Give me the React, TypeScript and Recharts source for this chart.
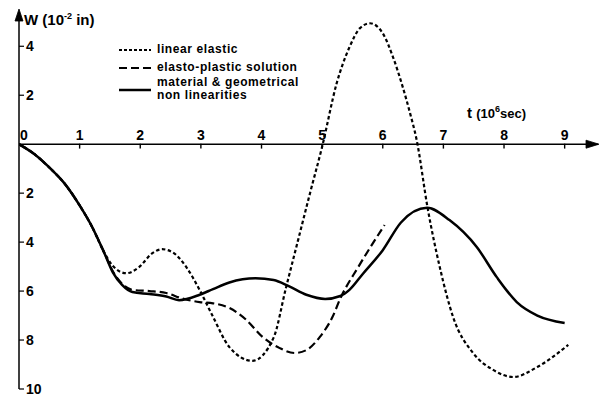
import {
  LineChart,
  Line,
  XAxis,
  YAxis,
  ReferenceLine,
  ReferenceDot,
  Legend,
} from "recharts";

// time (10^6 sec) tick labels and W (10^-2 in) ticks
const tTicks = [1, 2, 3, 4, 5, 6, 7, 8, 9];
const wTicks = [-10, -8, -6, -4, -2, 2, 4];

// linear elastic
const linearT = [0, 0.25, 0.5, 0.75, 1.0, 1.2, 1.4, 1.54, 1.77, 1.98, 2.2, 2.36, 2.53, 2.76, 2.98, 3.19, 3.47, 3.85, 4.2, 4.4, 4.6, 4.8, 5.0, 5.24, 5.45, 5.62, 5.79, 6.0, 6.17, 6.33, 6.45, 6.56, 6.74, 6.94, 7.16, 7.49, 7.82, 8.15, 8.55, 9.06];
const linearW = [0, -0.4, -0.95, -1.6, -2.5, -3.35, -4.4, -4.95, -5.27, -5.02, -4.45, -4.29, -4.41, -5.02, -5.96, -7.0, -8.29, -8.85, -7.9, -5.9, -3.95, -2.0, -0.1, 2.49, 3.96, 4.73, 4.94, 4.53, 3.55, 2.33, 1.27, 0.16, -2.61, -5.02, -7.06, -8.53, -9.22, -9.51, -9.1, -8.2];

// elasto-plastic solution
const plasticT = [0, 0.25, 0.5, 0.75, 1.0, 1.2, 1.4, 1.55, 1.7, 1.87, 2.15, 2.43, 2.69, 2.98, 3.2, 3.47, 3.75, 4.02, 4.3, 4.55, 4.74, 4.96, 5.17, 5.3, 5.6, 6.03];
const plasticW = [0, -0.4, -0.95, -1.6, -2.5, -3.35, -4.4, -5.2, -5.7, -5.95, -6.0, -6.08, -6.3, -6.45, -6.5, -6.69, -7.18, -7.88, -8.33, -8.53, -8.41, -7.88, -7.06, -6.3, -5.0, -3.3];

// material & geometrical non linearities
const materialT = [0, 0.25, 0.5, 0.75, 1.0, 1.2, 1.4, 1.55, 1.7, 1.87, 2.15, 2.43, 2.64, 2.98, 3.2, 3.47, 3.9, 4.2, 4.45, 4.74, 5.05, 5.3, 5.45, 5.67, 6.0, 6.3, 6.73, 7.1, 7.55, 7.88, 8.21, 8.55, 9.0];
const materialW = [0, -0.4, -0.95, -1.6, -2.5, -3.35, -4.4, -5.25, -5.75, -6.04, -6.12, -6.22, -6.37, -6.15, -5.92, -5.65, -5.48, -5.55, -5.8, -6.15, -6.32, -6.2, -5.95, -5.3, -4.33, -3.2, -2.6, -3.1, -4.2, -5.43, -6.45, -7.0, -7.3];

const toRows = (ts: number[], ws: number[]) => ts.map((t, i) => ({ t, w: ws[i] }));

const linearData = toRows(linearT, linearW);
const plasticData = toRows(plasticT, plasticW);
const materialData = toRows(materialT, materialW);

const FONT = "'Liberation Sans', Arial, sans-serif";
const tickStyle = { fill: "#000", fontSize: 14, fontWeight: "bold", fontFamily: FONT };

const legendRows = [
  { lines: ["linear elastic"], dash: "3 2", width: 2 },
  { lines: ["elasto-plastic solution"], dash: "8 4", width: 2.2 },
  { lines: ["material & geometrical", "non linearities"], dash: undefined, width: 2.5 },
];

function LegendBox() {
  return (
    <div style={{ fontFamily: FONT, fontSize: 12, fontWeight: "bold", color: "#000", lineHeight: "13px", letterSpacing: 0.6 }}>
      {legendRows.map((r, i) => (
        <div key={i} style={{ display: "flex", alignItems: "center", marginBottom: i === 0 ? 5 : 2 }}>
          <svg width={32} height={10} style={{ marginRight: 6, marginTop: r.lines.length > 1 ? 2 : 0 }}>
            <line x1={0} y1={5} x2={32} y2={5} stroke="#000" strokeWidth={r.width} strokeDasharray={r.dash} />
          </svg>
          <div>
            {r.lines.map((l) => (
              <div key={l}>{l}</div>
            ))}
          </div>
        </div>
      ))}
    </div>
  );
}

const wTitle = (props: any) => {
  const vb = props.viewBox;
  const ax = vb.x + vb.width;
  return (
    <text x={ax + 4} y={vb.y + 13} fill="#000" fontFamily={FONT} fontWeight="bold" fontSize={15}>
      W <tspan>(10</tspan>
      <tspan dy={-6} fontSize={9}>-2</tspan>
      <tspan dy={6}> in)</tspan>
    </text>
  );
};

const tTitle = (props: any) => {
  const vb = props.viewBox;
  return (
    <text x={vb.x} y={vb.y} fill="#000" fontFamily={FONT} fontWeight="bold" fontSize={15}>
      t <tspan fontSize={13}>(10</tspan>
      <tspan dy={-6} fontSize={9}>6</tspan>
      <tspan dy={6} fontSize={13}>sec)</tspan>
    </text>
  );
};

// arrow heads on the axes
const upArrow = (props: any) => {
  const vb = props.viewBox;
  const cx = vb.x + vb.width / 2;
  const cy = vb.y + vb.height / 2;
  return <path d={`M${cx},${cy - 3}L${cx - 4},${cy + 9}L${cx + 4},${cy + 9}Z`} fill="#000" stroke="#000" strokeWidth={0.8} />;
};
const rightArrow = (props: any) => {
  const vb = props.viewBox;
  const cx = vb.x + vb.width / 2;
  const cy = vb.y + vb.height / 2;
  return <path d={`M${cx + 1},${cy}L${cx - 12},${cy - 4}L${cx - 12},${cy + 4}Z`} fill="#000" stroke="#000" strokeWidth={0.8} />;
};

export default function App() {
  return (
    <div style={{ position: "absolute", left: 0, top: 0, background: "#fff" }}>
      <LineChart width={603} height={399} margin={{ top: 12, right: 5, bottom: 10, left: 19 }}>
        <XAxis type="number" dataKey="t" domain={[0, 9.55]} allowDataOverflow hide />
        <YAxis
          type="number"
          dataKey="w"
          domain={[-10, 5.4]}
          allowDataOverflow
          ticks={wTicks}
          mirror
          width={1}
          tickSize={5}
          tick={tickStyle}
          tickFormatter={(v: number) => String(Math.abs(v))}
          axisLine={{ stroke: "#000", strokeWidth: 1.5 }}
          tickLine={{ stroke: "#000", strokeWidth: 1.2 }}
          label={{ content: wTitle }}
        />
        <ReferenceLine y={0} stroke="#000" strokeWidth={1.5} />
        {tTicks.map((t) => (
          <ReferenceLine
            key={t}
            segment={[{ x: t, y: 0.02 }, { x: t, y: -0.18 }]}
            stroke="#000"
            strokeWidth={1.4}
            ifOverflow="visible"
            label={{ value: String(t), position: "top", offset: 4, ...tickStyle }}
          />
        ))}
        <ReferenceDot x={0} y={0} r={0} fill="none" stroke="none" label={{ value: "0", position: "top", offset: 4, dx: 5, ...tickStyle }} />
        <ReferenceDot x={7.39} y={1.06} r={0} fill="none" stroke="none" label={{ content: tTitle }} />
        <ReferenceDot x={0} y={5.4} r={0} fill="none" stroke="none" ifOverflow="visible" label={{ content: upArrow }} />
        <ReferenceDot x={9.55} y={0} r={0} fill="none" stroke="none" ifOverflow="visible" label={{ content: rightArrow }} />

        <Line data={materialData} dataKey="w" type="monotone" stroke="#000" strokeWidth={2.5} dot={false} isAnimationActive={false} />
        <Line data={plasticData} dataKey="w" type="monotone" stroke="#000" strokeWidth={2.2} strokeDasharray="8 4" dot={false} isAnimationActive={false} />
        <Line data={linearData} dataKey="w" type="monotone" stroke="#000" strokeWidth={2.2} strokeDasharray="3.5 2.5" dot={false} isAnimationActive={false} />

        <Legend
          layout="vertical"
          align="center"
          verticalAlign="middle"
          content={<LegendBox />}
          wrapperStyle={{ left: 119, top: 43, width: 240 }}
        />
      </LineChart>
    </div>
  );
}
